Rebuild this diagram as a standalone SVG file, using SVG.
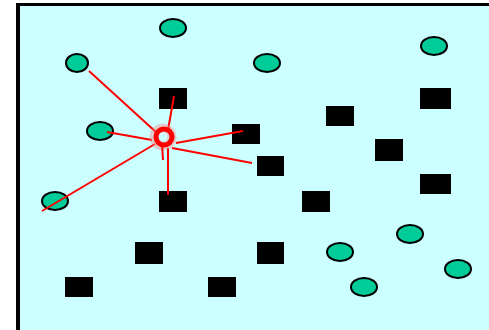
<svg xmlns="http://www.w3.org/2000/svg" width="489" height="330" viewBox="0 0 489 330">
  <style>
    .field { fill: #ccffff; }
    .frame { fill: #000000; }
    .site { fill: #00cc99; stroke: #000000; stroke-width: 2; }
    .block { fill: #000000; }
    .link { stroke: #ff0000; stroke-width: 2; stroke-linecap: butt; fill: none; }
    .hub { fill: none; stroke: #ff0000; stroke-width: 5; }
    .hub-halo { fill: none; stroke: #ff8080; stroke-width: 9; opacity: 0.4; }
  </style>

  <!-- background and frame -->
  <rect x="0" y="0" width="489" height="330" fill="#ffffff"/>
  <rect class="field" x="16" y="3" width="473" height="327"/>
  <rect class="frame" x="16" y="3" width="4" height="327"/>
  <rect class="frame" x="16" y="3" width="473" height="3"/>

  <!-- round sites -->
  <g id="site-1"><ellipse class="site" cx="173" cy="28" rx="13" ry="9"/></g>
  <g id="site-2"><ellipse class="site" cx="77" cy="63" rx="11" ry="9"/></g>
  <g id="site-3"><ellipse class="site" cx="267" cy="63" rx="13" ry="9"/></g>
  <g id="site-4"><ellipse class="site" cx="434" cy="46" rx="13" ry="9"/></g>
  <g id="site-5"><ellipse class="site" cx="100" cy="131" rx="13" ry="9"/></g>
  <g id="site-6"><ellipse class="site" cx="55" cy="201" rx="13" ry="9"/></g>
  <g id="site-7"><ellipse class="site" cx="410" cy="234" rx="13" ry="9"/></g>
  <g id="site-8"><ellipse class="site" cx="340" cy="252" rx="13" ry="9"/></g>
  <g id="site-9"><ellipse class="site" cx="364" cy="287" rx="13" ry="9"/></g>
  <g id="site-10"><ellipse class="site" cx="458" cy="269" rx="13" ry="9"/></g>

  <!-- square blocks -->
  <g id="block-1"><rect class="block" x="159" y="88" width="28" height="21"/></g>
  <g id="block-2"><rect class="block" x="232" y="124" width="28" height="20"/></g>
  <g id="block-3"><rect class="block" x="326" y="106" width="28" height="20"/></g>
  <g id="block-4"><rect class="block" x="420" y="88" width="31" height="21"/></g>
  <g id="block-5"><rect class="block" x="375" y="139" width="28" height="22"/></g>
  <g id="block-6"><rect class="block" x="257" y="156" width="27" height="20"/></g>
  <g id="block-7"><rect class="block" x="420" y="174" width="31" height="20"/></g>
  <g id="block-8"><rect class="block" x="302" y="191" width="28" height="21"/></g>
  <g id="block-9"><rect class="block" x="159" y="191" width="28" height="21"/></g>
  <g id="block-10"><rect class="block" x="257" y="242" width="27" height="22"/></g>
  <g id="block-11"><rect class="block" x="135" y="242" width="28" height="22"/></g>
  <g id="block-12"><rect class="block" x="65" y="277" width="28" height="20"/></g>
  <g id="block-13"><rect class="block" x="208" y="277" width="28" height="20"/></g>

  <!-- red links radiating from the hub -->
  <g id="links">
    <line class="link" x1="89" y1="71" x2="157" y2="133"/>
    <line class="link" x1="174" y1="96" x2="168" y2="130"/>
    <line class="link" x1="107" y1="132" x2="152" y2="140"/>
    <line class="link" x1="176" y1="143" x2="243" y2="131"/>
    <line class="link" x1="172" y1="148" x2="252" y2="163"/>
    <line class="link" x1="42" y1="211" x2="155" y2="144"/>
    <line class="link" x1="168" y1="148" x2="168" y2="195"/>
  </g>

  <!-- hub -->
  <g id="hub">
    <circle class="hub-halo" cx="163" cy="137" r="9"/>
    <circle class="hub" cx="164" cy="137" r="8"/>
    <line class="link" x1="162" y1="144" x2="163" y2="160" stroke-width="4"/>
  </g>
</svg>
